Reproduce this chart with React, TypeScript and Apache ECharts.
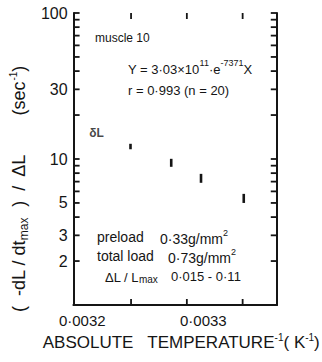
import React, { useEffect, useRef } from "react";
import * as echarts from "echarts";

// ---- data ----
const xValues = [0.003219, 0.0032495, 0.003286, 0.0033127, 0.003351];
const yValues = [15.1, 12.2, 9.46, 7.32, 5.39];
const yLow = [15.1, 11.66, 8.84, 6.87, 5.0];
const yHigh = [15.1, 12.71, 10.03, 7.91, 5.77];
const pointLabels = ["δL", "", "", "", ""];

const xLabelValues = [0.0032, 0.0033];
const xLabelTexts = ["0·0032", "0·0033"];
const xTickValues = [0.00325, 0.0033, 0.00335];
const yLabelValues = [2, 3, 5, 10, 30, 100];
const yTickValues = [2, 3, 4, 5, 6, 7, 8, 9, 10, 20, 30, 40, 50, 60, 70, 80, 90, 100];
const xMin = 0.0031985;
const xMax = 0.0033806;
const yMin = 1;
const yMax = 100;

const FONT = "'Liberation Sans', Arial, sans-serif";
const INK = "#151515";
const TICK_LEN = 6;
const TICK_W = 1.8;
const lg = (v: number) => Math.log10(v);

export default function App() {
  const ref = useRef<HTMLDivElement>(null);
  useEffect(() => {
    if (!ref.current) return;
    const chart = echarts.init(ref.current, null, { renderer: "svg" });
    const axisLine = { show: true, lineStyle: { color: INK, width: 2 } };
    const xFmt = (v: number) => {
      const i = xLabelValues.findIndex((t) => Math.abs(t - v) < 1e-9);
      return i >= 0 ? `{l${i}|${xLabelTexts[i]}}` : "";
    };
    const yFmt = (v: number) => {
      const i = yLabelValues.findIndex((t) => Math.abs(lg(t) - v) < 1e-6);
      return i >= 0 ? String(yLabelValues[i]) : "";
    };
    const yLabelsLog = yLabelValues.map(lg);

    const supRich = (lh: number, size: number) => ({
      n: { fontFamily: FONT, fontSize: size, fill: INK, lineHeight: lh, verticalAlign: "bottom" },
      s: { fontFamily: FONT, fontSize: 9, fill: INK, lineHeight: lh, verticalAlign: "top" },
    });

    const textGraphics: any[] = [
      { type: "text", x: 95, y: 38, style: { text: "muscle 10", fontFamily: FONT, fontSize: 12, fill: INK, verticalAlign: "middle" } },
      {
        type: "text",
        x: 128,
        y: 67,
        style: { text: "{n|Y = 3·03×10}{s|11}{n|·e}{s|-7371}{n|X}", verticalAlign: "middle", rich: supRich(17, 13) },
      },
      { type: "text", x: 128, y: 90, style: { text: "r = 0·993 (n = 20)", fontFamily: FONT, fontSize: 13, fill: INK, verticalAlign: "middle" } },
      { type: "text", x: 97, y: 237, style: { text: "preload", fontFamily: FONT, fontSize: 14, fill: INK, verticalAlign: "middle" } },
      { type: "text", x: 160, y: 237, style: { text: "{n|0·33g/mm}{s|2}", verticalAlign: "middle", rich: supRich(18, 14) } },
      { type: "text", x: 97, y: 256, style: { text: "total load", fontFamily: FONT, fontSize: 14, fill: INK, verticalAlign: "middle" } },
      { type: "text", x: 168, y: 256, style: { text: "{n|0·73g/mm}{s|2}", verticalAlign: "middle", rich: supRich(18, 14) } },
      {
        type: "text",
        x: 105,
        y: 276,
        style: {
          text: "{n|ΔL / L}{m|max}",
          verticalAlign: "middle",
          rich: {
            n: { fontFamily: FONT, fontSize: 13, fill: INK, lineHeight: 16, verticalAlign: "bottom" },
            m: { fontFamily: FONT, fontSize: 10, fill: INK, lineHeight: 16, verticalAlign: "bottom" },
          },
        },
      },
      { type: "text", x: 171, y: 276, style: { text: "0·015 - 0·11", fontFamily: FONT, fontSize: 13, fill: INK, verticalAlign: "middle" } },
    ];

    const option: any = {
      animation: false,
      grid: { left: 72, right: 37, top: 13, bottom: 57, containLabel: false },
      xAxis: [
        {
          type: "value",
          min: xMin,
          max: xMax,
          position: "bottom",
          axisLine,
          axisTick: { show: false },
          splitLine: { show: false },
          axisLabel: {
            customValues: xLabelValues,
            formatter: xFmt,
            fontFamily: FONT,
            fontSize: 16,
            color: INK,
            margin: 8,
            rich: {
              l0: { fontFamily: FONT, fontSize: 15, color: INK, padding: [0, 0, 0, 14] },
              l1: { fontFamily: FONT, fontSize: 15, color: INK, padding: [0, 0, 0, 33] },
            },
          },
          name: "ABSOLUTE   TEMPERATURE{sup|-1}( K{sup|-1})",
          nameLocation: "middle",
          nameGap: 25,
          nameTextStyle: {
            fontFamily: FONT,
            fontSize: 17,
            color: INK,
            padding: [0, 0, 0, 12],
            lineHeight: 20,
            rich: {
              sup: { fontSize: 10, verticalAlign: "top", lineHeight: 20, fontFamily: FONT, color: INK },
            },
          },
        },
        {
          type: "value",
          min: xMin,
          max: xMax,
          position: "top",
          axisLine,
          axisTick: { show: false },
          splitLine: { show: false },
          axisLabel: { show: false },
        },
      ],
      yAxis: [
        {
          type: "value",
          min: lg(yMin),
          max: lg(yMax),
          position: "left",
          axisLine,
          axisTick: { show: false },
          splitLine: { show: false },
          axisLabel: {
            customValues: yLabelsLog,
            formatter: yFmt,
            fontFamily: FONT,
            fontSize: 16,
            color: INK,
            margin: 6,
          },
          name: "(  -dL / dt{sub|max}  )  /  ΔL        (sec{sup|-1})",
          nameLocation: "middle",
          nameGap: 33,
          nameTextStyle: {
            fontFamily: FONT,
            fontSize: 18,
            color: INK,
            lineHeight: 22,
            padding: [0, 60, 0, 0],
            rich: {
              sub: { fontSize: 12, verticalAlign: "bottom", lineHeight: 22, fontFamily: FONT, color: INK },
              sup: { fontSize: 10, verticalAlign: "top", lineHeight: 22, fontFamily: FONT, color: INK },
            },
          },
        },
        {
          type: "value",
          min: lg(yMin),
          max: lg(yMax),
          position: "right",
          axisLine,
          axisTick: { show: false },
          splitLine: { show: false },
          axisLabel: { show: false },
        },
      ],
      series: [
        {
          // error bars
          type: "custom",
          encode: { x: 0, y: 1 },
          data: xValues.map((x, i) => [x, lg(yLow[i]), lg(yHigh[i])]),
          renderItem: (params: any, api: any) => {
            const x = api.value(0);
            const lo = api.coord([x, api.value(1)]);
            const hi = api.coord([x, api.value(2)]);
            const h = lo[1] - hi[1];
            if (h < 0.5) return null;
            return {
              type: "rect",
              shape: { x: lo[0] - 1.3, y: hi[1], width: 2.6, height: h },
              style: { fill: INK },
            };
          },
          z: 3,
        },
        {
          type: "scatter",
          symbolSize: 0,
          data: xValues.map((x, i) => ({
            value: [x, lg(yValues[i])],
            label: {
              show: pointLabels[i] !== "",
              formatter: pointLabels[i],
              position: "inside",
              fontFamily: FONT,
              fontSize: 12,
              fontWeight: "bold",
              color: INK,
            },
          })),
          z: 4,
        },
      ],
      graphic: textGraphics,
    };
    chart.setOption(option);

    // frame tick marks: positions from the axes' own scales
    const gridLeft = 72;
    const gridTop = 13;
    const gridRight = 322 - 37;
    const gridBottom = 362 - 57;
    const xPix = (v: number) => {
      const p = chart.convertToPixel({ xAxisIndex: 0 } as any, v) as any;
      return typeof p === "number" && isFinite(p) ? p : gridLeft + ((v - xMin) / (xMax - xMin)) * (gridRight - gridLeft);
    };
    const yPix = (v: number) => {
      const p = chart.convertToPixel({ yAxisIndex: 0 } as any, lg(v)) as any;
      return typeof p === "number" && isFinite(p)
        ? p
        : gridBottom - ((lg(v) - lg(yMin)) / (lg(yMax) - lg(yMin))) * (gridBottom - gridTop);
    };
    const left = xPix(xMin);
    const right = xPix(xMax);
    const top = yPix(yMax);
    const bottom = yPix(yMin);
    const tickGraphics: any[] = [];
    yTickValues.forEach((v) => {
      const y = yPix(v);
      tickGraphics.push({ type: "rect", z: 50, shape: { x: left, y: y - TICK_W / 2, width: TICK_LEN, height: TICK_W }, style: { fill: INK } });
      tickGraphics.push({ type: "rect", z: 50, shape: { x: right - TICK_LEN, y: y - TICK_W / 2, width: TICK_LEN, height: TICK_W }, style: { fill: INK } });
    });
    xTickValues.forEach((v) => {
      const x = xPix(v);
      tickGraphics.push({ type: "rect", z: 50, shape: { x: x - TICK_W / 2, y: top, width: TICK_W, height: TICK_LEN }, style: { fill: INK } });
      tickGraphics.push({ type: "rect", z: 50, shape: { x: x - TICK_W / 2, y: bottom - TICK_LEN, width: TICK_W, height: TICK_LEN }, style: { fill: INK } });
    });
    chart.setOption({ graphic: [...textGraphics, ...tickGraphics] });

    return () => chart.dispose();
  }, []);
  return (
    <div
      ref={ref}
      style={{ position: "fixed", left: 0, top: 0, width: 322, height: 362, background: "#fff" }}
    />
  );
}
